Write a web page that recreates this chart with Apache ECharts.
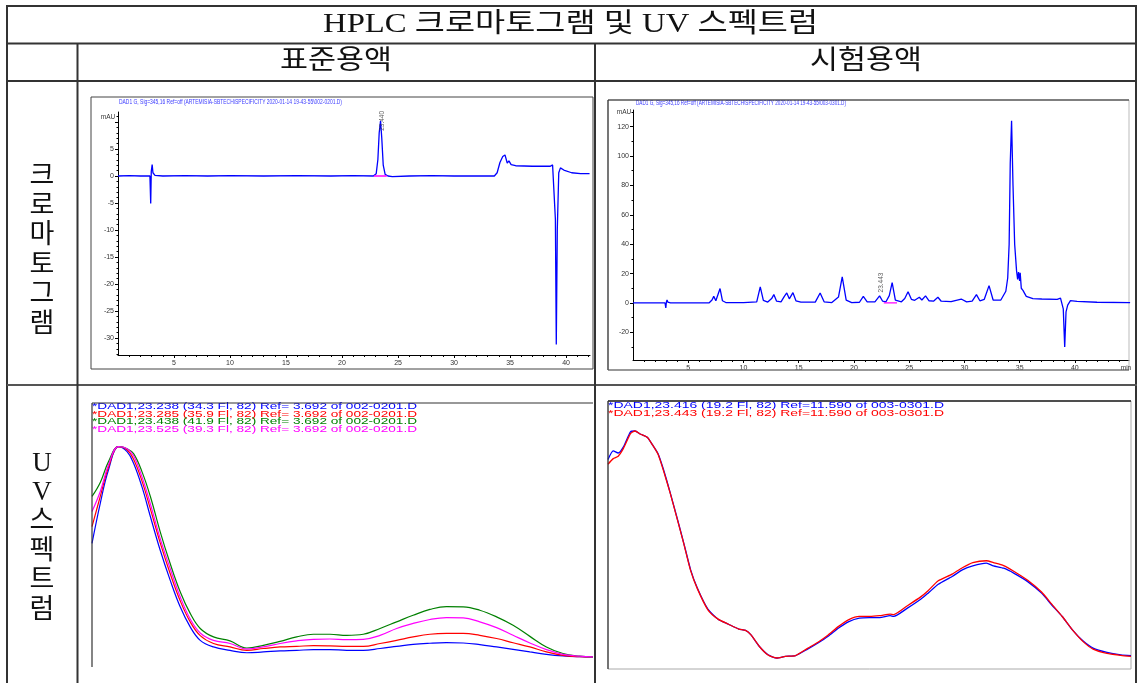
<!DOCTYPE html>
<html>
<head>
<meta charset="utf-8">
<script src="https://cdn.jsdelivr.net/npm/echarts@6/dist/echarts.min.js"></script>
<style>html,body{margin:0;padding:0;background:#fff}#c{width:1138px;height:683px}</style>
</head>
<body>
<div id="c"></div>
<script>
// ---------------- DATA ----------------
const titleText = 'HPLC 크로마토그램 및 UV 스펙트럼';
const colHeaders = ['표준용액', '시험용액'];
const rowHeaders = ['크로마토그램', 'UV스펙트럼'];

const chromHeaderStd = 'DAD1 G, Sig=345,16 Ref=off (ARTEMISIA-SBTECH\\SPECIFICITY 2020-01-14 19-43-55\\002-0201.D)';
const chromHeaderSmp = 'DAD1 G, Sig=345,16 Ref=off (ARTEMISIA-SBTECH\\SPECIFICITY 2020-01-14 19-43-55\\003-0301.D)';

// standard solution chromatogram [min, mAU]
const chromStd = [[0,0],[1,0.05],[2,0],[2.85,0],[2.92,-5.1],[2.97,0.8],[3.05,2.1],[3.12,0.6],[3.3,0.1],[4,0],[6,0.05],[8,0],[10,0.05],[13,0],[16,0.05],[19,0],[21,0.05],[22.8,0],[23.05,0.4],[23.2,3],[23.32,8],[23.44,10.2],[23.55,7],[23.68,2],[23.85,0.3],[24.1,0],[24.5,-0.1],[26,0],[28,0.05],[30,0],[32,0],[33.6,0],[33.85,0.6],[34.1,2.5],[34.35,3.6],[34.55,3.9],[34.75,2.4],[34.9,2.8],[35.1,2.1],[35.5,1.9],[37,1.8],[38.6,1.8],[38.8,2.05],[38.95,1.7],[39.05,-8],[39.13,-31.2],[39.22,-10],[39.35,0.6],[39.5,1.5],[39.8,1.1],[40.5,0.6],[41.3,0.45],[42.1,0.45]];
const baseStd = [[22.85,0],[24.0,0]];
const peakStd = [23.44, 10.2];
const peakStdLabel = '23.440';

// sample solution chromatogram [min, mAU]
const chromSmp = [[0,0],[1.5,0.1],[2.9,0],[2.97,-3.4],[3.02,0.5],[3.08,2.0],[3.15,0.6],[3.4,0],[5,0.1],[6.9,0.1],[7.15,2],[7.31,4.5],[7.5,1.5],[7.65,1.8],[7.88,9.8],[8.1,1.5],[8.4,0.3],[10,0.2],[11.2,0.8],[11.52,11.0],[11.8,1.8],[12.2,0.6],[12.55,3],[12.75,5.7],[13.0,1.2],[13.4,0.8],[13.7,4.5],[13.92,6.8],[14.15,2.8],[14.3,4],[14.48,7.0],[14.75,1.5],[15.2,0.6],[16.5,0.6],[16.94,6.8],[17.3,0.8],[18,0.3],[18.6,4],[18.94,17.7],[19.3,2],[19.8,0.3],[20.5,0.5],[20.85,4.5],[21.2,0.8],[21.9,0.8],[22.32,4.8],[22.6,1.2],[22.9,0.8],[23.2,5],[23.46,13.9],[23.75,2],[24.3,0.8],[24.6,3],[24.9,7.7],[25.2,2.5],[25.5,1.8],[25.92,3.9],[26.15,2],[26.48,4.8],[26.8,1.5],[27.2,1.2],[27.6,3.9],[27.9,1.2],[28.8,0.9],[29.71,2.7],[30.2,0.8],[30.7,1.2],[31.09,5.7],[31.4,1.5],[31.8,2.5],[32.23,11.8],[32.6,2],[33.3,2],[33.75,8],[33.92,17],[34.05,40],[34.15,95],[34.27,124],[34.4,80],[34.55,40],[34.72,22],[34.82,16],[34.9,21],[35.0,15],[35.05,20.5],[35.15,10],[35.3,8.6],[35.6,4.5],[36.2,3],[37,2.7],[38.4,2.5],[38.7,3.3],[38.85,3.6],[38.95,-4],[39.08,-30],[39.2,-6],[39.35,-1.5],[39.6,1.6],[40.2,1.1],[42,0.5],[45,0.2]];
const baseSmp = [[22.7,0],[23.9,0]];
const peakSmp = [23.46, 13.9];
const peakSmpLabel = '23.443';

// tick labels
const stdXLabels = [5,10,15,20,25,30,35,40];
const stdYLabels = [-30,-25,-20,-15,-10,-5,0,5];
const stdYMajorTicks = [-30,-25,-20,-15,-10,-5,0,5,10];
const smpXLabels = [5,10,15,20,25,30,35,40];
const smpYLabels = [-20,0,20,40,60,80,100,120];

// UV spectra, standard (wavelength nm, relative absorbance)
const uvStdNm = [200,203.3,206.6,210.6,214,216.6,219.9,223.3,227.2,231.2,235.2,239.2,243.2,248.5,255.1,261.8,268.4,275.1,281.7,288.4,295,301.7,308.3,315,321.6,328.2,334.9,341.5,348.2,354.8,361.5,368.1,374.8,381.4,388,394.7,400];
const uvStdBlue = [46.8,62.0,74.7,83.5,81.6,77.2,68.4,57.0,44.3,32.9,22.8,15.2,10.1,7.6,6.3,5.4,5.7,6.1,6.3,6.6,6.6,6.3,6.3,7.0,7.8,8.6,9.0,9.2,9.1,8.5,7.6,6.7,5.7,4.8,4.2,3.9,3.8];
const uvStdRed = [53.2,64.6,75.7,83.5,82.3,78.7,70.6,59.9,47.1,35.4,25.1,17.1,11.9,8.9,7.6,6.3,7.0,7.6,7.8,8.1,8.0,7.8,7.8,8.9,10.1,11.4,12.4,12.7,12.7,12.0,10.8,9.2,7.6,5.7,4.4,3.9,3.8];
const uvStdGreen = [64.6,69.9,77.8,83.5,82.7,80.8,74.1,64.6,51.3,39.2,28.5,20.3,14.6,11.4,9.9,7.2,8.2,9.7,11.4,12.4,12.4,12.0,12.4,14.6,17.1,19.6,21.8,22.9,22.8,21.5,19.0,15.8,11.6,7.6,5.1,4.1,3.8];
const uvStdMagenta = [58.9,66.5,76.6,83.5,82.7,80.0,72.2,61.8,48.7,37.3,26.6,18.2,12.9,10.1,8.9,6.8,7.6,8.9,9.9,10.5,10.6,10.4,10.5,12.0,14.6,16.5,18.0,18.7,18.6,17.1,14.9,12.0,9.1,6.6,4.8,4.1,3.8];
const uvStdLabels = [
  '*DAD1,23.238 (34.3 Fl, 82) Ref= 3.692 of 002-0201.D',
  '*DAD1,23.285 (35.9 Fl, 82) Ref= 3.692 of 002-0201.D',
  '*DAD1,23.438 (41.9 Fl, 82) Ref= 3.692 of 002-0201.D',
  '*DAD1,23.525 (39.3 Fl, 82) Ref= 3.692 of 002-0201.D'
];

// UV spectra, sample
const uvSmpNm = [200,202.0,203.9,205.9,208.6,210.3,212.5,215.1,217.1,219.1,221.1,223.7,226.3,229.0,231.6,234.2,238.2,242.1,246.1,250.0,252.6,254.6,257.9,261.2,264.5,267.8,271.7,276.3,280.3,284.2,288.2,292.1,296.1,300.0,303.9,307.9,309.2,314.5,319.7,322.4,326.3,331.6,335.5,339.5,344.7,347.4,351.3,355.3,360.5,365.8,369.7,373.7,377.6,381.6,385.5,390.8,396.1,400];
const uvSmpBlue = [78.2,81.4,80.6,82.9,88.5,88.8,87.6,86.4,83.5,80.4,74.8,66.1,56.8,46.9,37.0,30.1,22.3,18.6,16.7,14.9,14.4,12.8,8.4,5.3,4.1,4.7,5.0,7.4,9.7,12.2,15.3,17.7,19.0,19.2,19.2,19.9,19.6,22.7,26.1,28.3,31.6,34.5,37.0,38.5,39.5,38.5,37.6,35.7,32.6,28.3,23.9,19.6,14.6,10.5,7.8,6.2,5.3,5.0];
const uvSmpRed = [76.4,78.5,79.4,82.3,87.8,88.8,87.6,86.4,83.5,80.2,74.4,65.9,56.6,46.7,36.7,29.9,22.1,18.6,16.7,14.9,14.4,12.8,8.4,5.2,4.1,4.7,5.0,7.7,10.0,12.7,15.9,18.4,19.6,19.6,19.9,20.5,20.3,23.6,27.0,29.2,32.9,35.4,37.8,39.7,40.4,39.7,38.6,36.4,33.1,28.7,24.2,19.6,14.6,10.3,7.4,5.8,5.1,4.7];
const uvSmpLabels = [
  '*DAD1,23.416 (19.2 Fl, 82) Ref=11.590 of 003-0301.D',
  '*DAD1,23.443 (19.2 Fl, 82) Ref=11.590 of 003-0301.D'
];

// ---------------- CHART ----------------
const chart = echarts.init(document.getElementById('c'), null, {renderer:'canvas', width:1138, height:683});
const SMALL = "'Liberation Sans Narrow','Liberation Sans',Arial,sans-serif";
const SANS = "'Liberation Sans',Arial,sans-serif";
const SERIF = "'Liberation Serif','DejaVu Serif','Noto Sans CJK KR',serif";
const mctx = document.createElement('canvas').getContext('2d');
function fitText(txt, x, y, w, size, family, color){
  const font = size + 'px ' + family;
  mctx.font = font;
  const m = mctx.measureText(txt).width;
  return {type:'text', x:x, y:y, scaleX: w/m, z:20, silent:true,
    style:{text:txt, fill:color, font:font, align:'left', verticalAlign:'middle'}};
}
function txt(t, x, y, size, family, color, align){
  return {type:'text', x:x, y:y, z:20, silent:true,
    style:{text:t, fill:color, font:size+'px '+family, align:align||'center', verticalAlign:'middle'}};
}
function vtxt(t, x, y, size, family, color, lh){
  return {type:'text', x:x, y:y, z:20, silent:true,
    style:{text:t.split('').join('\n'), fill:color, font:size+'px '+family, align:'center', verticalAlign:'middle', lineHeight:lh}};
}
function line(x1,y1,x2,y2,color,w){
  return {type:'line', z:30, silent:true, shape:{x1,y1,x2,y2}, style:{stroke:color, lineWidth:w}};
}
function range(a,b){const r=[];for(let i=a;i<=b;i++)r.push(i);return r;}
function zip(xs, ys){return xs.map((x,i)=>[x, ys[i]]);}

const TC = '#333';
const graphic = [
  // table
  line(7,6,1137,6,TC,2), line(7,5,7,683,TC,2), line(1136,5,1136,683,TC,2),
  line(7,43.5,1137,43.5,TC,2), line(7,81,1137,81,TC,2), line(7,385,1137,385,'#555',2),
  line(77.5,43.5,77.5,683,TC,2), line(595,43.5,595,683,TC,2),
  fitText(titleText, 323, 25, 495, 27, SERIF, '#111'),
  fitText(colHeaders[0], 280, 62, 112, 27, SERIF, '#111'),
  fitText(colHeaders[1], 810, 62, 112, 27, SERIF, '#111'),
  vtxt(rowHeaders[0], 42, 251, 27, SERIF, '#111', 29.6),
  vtxt(rowHeaders[1], 42, 537, 27, SERIF, '#111', 29.4),
  // chromatogram frames
  {type:'rect', z:1, silent:true, shape:{x:91,y:97,width:502,height:272}, style:{fill:'none', stroke:'#444', lineWidth:1}},
  {type:'rect', z:1, silent:true, shape:{x:608,y:100,width:521,height:270}, style:{fill:'none', stroke:'#bbb', lineWidth:1}},
  line(608,100,1129,100,'#222',1.2), line(608,100,608,370,'#333',1.2), line(608,370,1129,370,'#555',1.2),
  fitText(chromHeaderStd, 119, 102.5, 223, 7, SMALL, '#3a3aff'),
  fitText(chromHeaderSmp, 636, 103, 210, 7, SMALL, '#3a3aff'),
  txt('mAU', 108, 117, 6.5, SMALL, '#333'),
  txt('mAU', 624, 112.5, 6.5, SMALL, '#333'),
  txt('min', 1126, 368, 6.5, SMALL, '#333'),
  // UV frames
  line(92,403,593,403,'#333',1.2), line(92,403,92,667,'#333',1.2),
  {type:'rect', z:1, silent:true, shape:{x:608,y:401,width:523,height:268}, style:{fill:'none', stroke:'#aaa', lineWidth:1}},
  line(608,401,1131,401,'#222',1.5), line(608,401,608,669,'#333',1.2)
];
const stdCols = ['#0000ff','#ff0000','#008000','#ff00ff'];
uvStdLabels.forEach((t,i)=>graphic.push(fitText(t, 92, 406.2 + i*7.7, 325, 9.5, SANS, stdCols[i])));
const smpCols = ['#0000ff','#ff0000'];
uvSmpLabels.forEach((t,i)=>graphic.push(fitText(t, 608, 405 + i*8.2, 336, 9.5, SANS, smpCols[i])));

const axLine = {show:true, lineStyle:{color:'#000', width:1}};
const lab = {fontSize:7, fontFamily:SMALL, color:'#333'};
function majorX(grid, max, labels){
  return {type:'value', gridIndex:grid, min:0, max:max, position:'bottom',
    axisLine:Object.assign({onZero:false},axLine), splitLine:{show:false},
    axisTick:{show:true, customValues:labels, length:3, lineStyle:{color:'#000'}},
    axisLabel:Object.assign({customValues:labels, margin:5}, lab)};
}
function minorX(grid, max, vals){
  return {type:'value', gridIndex:grid, min:0, max:max, position:'bottom',
    axisLine:{show:false, onZero:false}, splitLine:{show:false}, axisLabel:{show:false},
    axisTick:{show:true, customValues:vals, length:2, lineStyle:{color:'#000'}}};
}
function majorY(grid, min, max, labels, ticks){
  return {type:'value', gridIndex:grid, min:min, max:max, position:'left',
    axisLine:Object.assign({onZero:false},axLine), splitLine:{show:false},
    axisTick:{show:true, customValues:ticks, length:3, lineStyle:{color:'#000'}},
    axisLabel:Object.assign({customValues:labels, margin:4}, lab)};
}
function minorY(grid, min, max, vals){
  return {type:'value', gridIndex:grid, min:min, max:max, position:'left',
    axisLine:{show:false, onZero:false}, splitLine:{show:false}, axisLabel:{show:false},
    axisTick:{show:true, customValues:vals, length:1.5, lineStyle:{color:'#000'}}};
}
const hiddenAx = (grid, min, max) => ({type:'value', gridIndex:grid, min:min, max:max, show:false});

const STD_XMAX = 42.14, SMP_XMAX = 44.9;
const STD_YMIN = -33.15, STD_YMAX = 11.85, SMP_YMIN = -38.8, SMP_YMAX = 131.3;

const lineS = (name, data, xi, yi, color, w, smooth, z) => ({
  name, type:'line', data, xAxisIndex:xi, yAxisIndex:yi, symbol:'none', smooth:smooth||false,
  lineStyle:{color, width:w}, itemStyle:{color}, z:z||2, silent:true, animation:false});
const peakLabel = (pt, text, xi, yi, off) => ({
  type:'scatter', data:[pt], xAxisIndex:xi, yAxisIndex:yi, symbolSize:0, z:5, silent:true, animation:false,
  label:{show:true, formatter:text, rotate:90, position:'inside', offset:off, fontSize:6.5, fontFamily:SMALL, color:'#333'}});

chart.setOption({
  animation:false,
  backgroundColor:'#fff',
  grid:[
    {left:118, top:112, width:472, height:243},
    {left:633, top:110, width:496, height:250},
    {left:92, top:403, width:501, height:264},
    {left:608, top:401, width:523, height:268}
  ],
  xAxis:[
    majorX(0, STD_XMAX, stdXLabels),
    majorX(1, SMP_XMAX, smpXLabels),
    hiddenAx(2, 200, 400),
    hiddenAx(3, 200, 400),
    minorX(0, STD_XMAX, range(1,42)),
    minorX(1, SMP_XMAX, range(1,44))
  ],
  yAxis:[
    majorY(0, STD_YMIN, STD_YMAX, stdYLabels, stdYMajorTicks),
    majorY(1, SMP_YMIN, SMP_YMAX, smpYLabels, smpYLabels),
    hiddenAx(2, 0, 100),
    hiddenAx(3, 0, 100),
    minorY(0, STD_YMIN, STD_YMAX, range(-33,11)),
    minorY(1, SMP_YMIN, SMP_YMAX, [-30,-10,10,30,50,70,90,110,130])
  ],
  series:[
    lineS('std', chromStd, 0, 0, '#0000ff', 1.3),
    lineS('stdBase', baseStd, 0, 0, '#ff00ff', 1.3, false, 3),
    peakLabel(peakStd, peakStdLabel, 0, 0, [0,2]),
    lineS('smp', chromSmp, 1, 1, '#0000ff', 1.3),
    lineS('smpBase', baseSmp, 1, 1, '#ff00ff', 1.3, false, 3),
    peakLabel(peakSmp, peakSmpLabel, 1, 1, [0,-11]),
    lineS('uvB', zip(uvStdNm, uvStdBlue), 2, 2, '#0000ff', 1.2, 0.4),
    lineS('uvR', zip(uvStdNm, uvStdRed), 2, 2, '#ff0000', 1.2, 0.4),
    lineS('uvG', zip(uvStdNm, uvStdGreen), 2, 2, '#008000', 1.2, 0.4),
    lineS('uvM', zip(uvStdNm, uvStdMagenta), 2, 2, '#ff00ff', 1.2, 0.4),
    lineS('uvSB', zip(uvSmpNm, uvSmpBlue), 3, 3, '#0000ff', 1.3, 0.2),
    lineS('uvSR', zip(uvSmpNm, uvSmpRed), 3, 3, '#ff0000', 1.3, 0.2)
  ],
  graphic: graphic
});
</script>
</body>
</html>
